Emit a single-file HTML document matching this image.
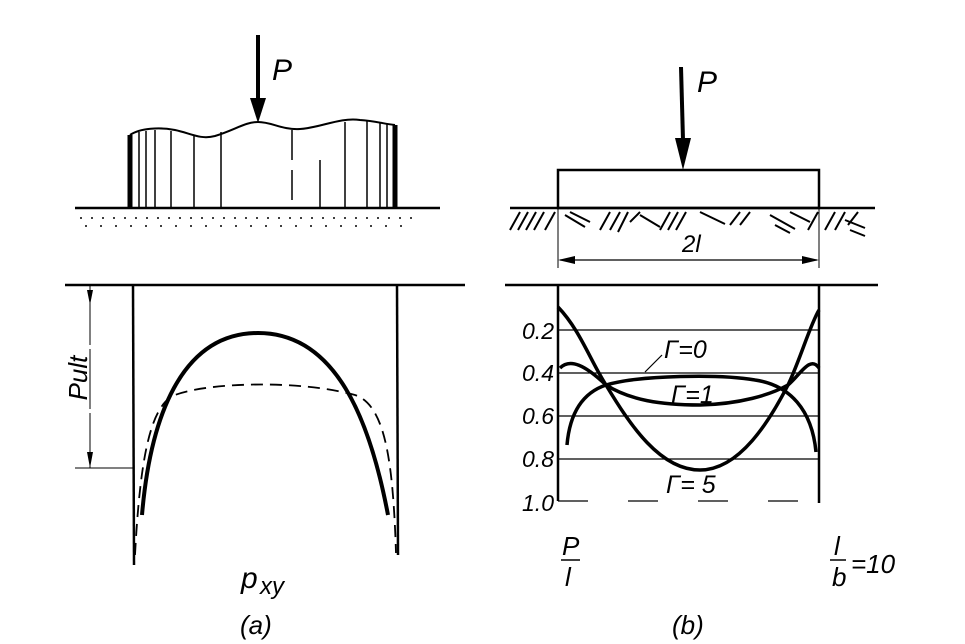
<!DOCTYPE html>
<html><head><meta charset="utf-8"><style>
html,body{margin:0;padding:0;background:#fff}
svg{display:block}
text{font-family:"Liberation Sans",sans-serif;font-style:italic;fill:#000}
</style></head><body>
<svg width="965" height="644" viewBox="0 0 965 644" xmlns="http://www.w3.org/2000/svg">
<g stroke="#000" fill="none">
<!-- LEFT TOP -->
<line x1="258" y1="35" x2="258" y2="100" stroke-width="4"/>
<polygon points="250,98 266,98 258,123" fill="#000" stroke="none"/>
<path d="M130,135 C140,128 160,127 175,130 C190,133 200,140 215,136 C235,130 245,122 258,122 C272,122 282,130 300,129 C320,128 340,117 360,120 C375,121 385,124 395,125" stroke-width="2"/>
<line x1="130" y1="135" x2="130" y2="208" stroke-width="5"/>
<line x1="395" y1="125" x2="395" y2="208" stroke-width="5"/>
<g stroke-width="1.5">
<line x1="139" y1="132" x2="139" y2="208"/><line x1="146" y1="131" x2="146" y2="208"/>
<line x1="155" y1="130" x2="155" y2="208"/><line x1="171" y1="131" x2="171" y2="208"/>
<line x1="194" y1="135" x2="194" y2="208"/><line x1="221" y1="132" x2="221" y2="208"/>
<line x1="292" y1="130" x2="292" y2="208" stroke-dasharray="30 10"/>
<line x1="320" y1="160" x2="320" y2="208"/><line x1="345" y1="122" x2="345" y2="208"/>
<line x1="367" y1="120" x2="367" y2="208"/><line x1="380" y1="122" x2="380" y2="208"/>
<line x1="387" y1="123" x2="387" y2="208"/>
</g>
<line x1="75" y1="208" x2="440" y2="208" stroke-width="2.5"/>
<line x1="80" y1="218" x2="420" y2="218" stroke-width="1.5" stroke-dasharray="2 9"/>
<line x1="85" y1="226" x2="410" y2="226" stroke-width="1.5" stroke-dasharray="2 13"/>
<!-- LEFT BOTTOM -->
<line x1="65" y1="285" x2="465" y2="285" stroke-width="2.5"/>
<line x1="133" y1="285" x2="134" y2="565" stroke-width="2.5"/>
<line x1="397" y1="285" x2="398" y2="555" stroke-width="2.5"/>
<line x1="90" y1="285" x2="90" y2="468" stroke-width="1" stroke-dasharray="60 4"/>
<polygon points="87,290 93,290 90,305" fill="#000" stroke="none"/>
<polygon points="87,452 93,452 90,468" fill="#000" stroke="none"/>
<line x1="75" y1="468" x2="133" y2="468" stroke-width="1"/>
<path d="M142,515 C150,420 180,333 258,333 C336,333 370,420 388,515" stroke-width="4"/>
<path d="M135,555 C140,460 150,405 175,395 C210,382 300,380 355,395 C385,405 393,460 396,553" stroke-width="1.8" stroke-dasharray="12 7"/>
<!-- RIGHT TOP -->
<line x1="681" y1="67" x2="683" y2="140" stroke-width="4"/>
<polygon points="675,138 691,138 683,170" fill="#000" stroke="none"/>
<rect x="558" y="170" width="261" height="38" stroke-width="2.5"/>
<line x1="510" y1="208" x2="875" y2="208" stroke-width="2.5"/>
<g stroke-width="2">
<path d="M510,230 l10,-18 M518,230 l10,-18 M526,230 l10,-18 M534,230 l10,-18 M545,230 l10,-18"/>
<path d="M565,215 l20,12 M570,212 l20,10 M600,230 l10,-18 M610,230 l10,-18 M618,232 l10,-20 M630,222 l10,-10"/>
<path d="M640,215 l20,12 M660,230 l10,-18 M668,230 l10,-18 M676,230 l10,-18 M700,212 l25,12 M730,225 l10,-13 M740,225 l10,-13"/>
<path d="M770,215 l25,14 M775,225 l15,8 M790,212 l20,10 M808,230 l10,-18 M825,230 l10,-18 M835,230 l10,-18 M848,225 l10,-13 M845,220 l20,8 M850,230 l15,6"/>
</g>
<line x1="558" y1="208" x2="558" y2="268" stroke-width="1"/>
<line x1="819" y1="208" x2="819" y2="268" stroke-width="1"/>
<line x1="560" y1="260" x2="817" y2="260" stroke-width="1.2"/>
<polygon points="558,260 575,256 575,264" fill="#000" stroke="none"/>
<polygon points="819,260 802,256 802,264" fill="#000" stroke="none"/>
<!-- RIGHT BOTTOM -->
<line x1="505" y1="285" x2="878" y2="285" stroke-width="2.5"/>
<line x1="558" y1="285" x2="558" y2="501" stroke-width="2.5"/>
<line x1="819" y1="285" x2="819" y2="503" stroke-width="2.5"/>
<g stroke-width="1.2">
<line x1="558" y1="330" x2="819" y2="330"/><line x1="558" y1="373" x2="819" y2="373"/>
<line x1="558" y1="416" x2="819" y2="416"/><line x1="558" y1="459" x2="819" y2="459"/>
<line x1="558" y1="501" x2="819" y2="501" stroke-dasharray="30 40"/>
</g>
<path d="M558,307 C580,330 590,360 606,385 C630,425 660,470 700,470 C740,470 770,420 788,385 C800,360 810,325 819,310" stroke-width="3.5"/>
<path d="M567,445 C570,410 585,392 606,385 C640,375 720,374 755,380 C790,385 812,410 816,452" stroke-width="3.5"/>
<path d="M560,368 C570,358 585,365 606,385 C630,400 660,405 700,405 C740,404 770,395 788,385 C800,375 810,355 819,368" stroke-width="3.5"/>
<line x1="662" y1="355" x2="645" y2="372" stroke-width="1.2"/>
</g>
<g font-size="30">
<text x="272" y="80">P</text>
<text x="697" y="92">P</text>
</g>
<text x="682" y="252" font-size="24">2l</text>
<text x="87" y="378" font-size="26" transform="rotate(-90 87 378)" text-anchor="middle">Pult</text>
<text x="241" y="588" font-size="30">p</text><text x="260" y="594" font-size="24">xy</text>
<text x="240" y="634" font-size="26">(a)</text>
<text x="672" y="634" font-size="26">(b)</text>
<g font-size="23">
<text x="554" y="339" text-anchor="end">0.2</text>
<text x="554" y="381" text-anchor="end">0.4</text>
<text x="554" y="424" text-anchor="end">0.6</text>
<text x="554" y="467" text-anchor="end">0.8</text>
<text x="554" y="511" text-anchor="end">1.0</text>
</g>
<g font-size="25">
<text x="664" y="358">Γ=0</text>
<text x="671" y="403">Γ=1</text>
<text x="666" y="493">Γ= 5</text>
</g>
<g font-size="26">
<text x="562" y="555">P</text>
<line x1="561" y1="560" x2="580" y2="560" stroke="#000" stroke-width="1.5"/>
<text x="565" y="586">l</text>
<text x="834" y="555">l</text>
<line x1="830" y1="560" x2="846" y2="560" stroke="#000" stroke-width="1.5"/>
<text x="832" y="586">b</text>
<text x="851" y="573">=10</text>
</g>
</svg>
</body></html>
